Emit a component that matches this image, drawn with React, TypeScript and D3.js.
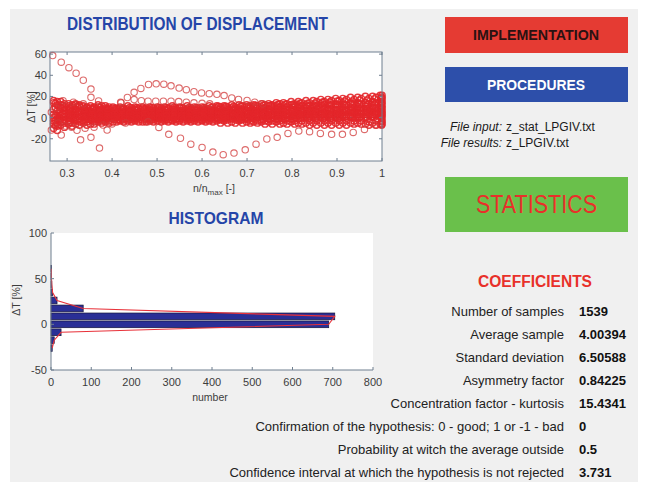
import React from "react";
import * as d3 from "d3";

// scatter: three interleaved n/nmax grids for the dense band of curves
const gridA = [0.27, 0.286, 0.303, 0.319, 0.336, 0.352, 0.369, 0.385, 0.402, 0.418, 0.435, 0.451, 0.468, 0.484, 0.501, 0.517, 0.534, 0.55, 0.567, 0.583, 0.6, 0.616, 0.633, 0.649, 0.666, 0.682, 0.699, 0.715, 0.732, 0.748, 0.765, 0.781, 0.798, 0.814, 0.831, 0.847, 0.864, 0.88, 0.897, 0.913, 0.93, 0.946, 0.963, 0.979, 0.996];
const gridB = [0.278, 0.294, 0.311, 0.327, 0.344, 0.36, 0.377, 0.393, 0.41, 0.426, 0.443, 0.459, 0.476, 0.492, 0.509, 0.525, 0.542, 0.558, 0.575, 0.591, 0.608, 0.624, 0.641, 0.657, 0.674, 0.69, 0.707, 0.723, 0.74, 0.756, 0.773, 0.789, 0.806, 0.822, 0.839, 0.855, 0.872, 0.888, 0.905, 0.921, 0.938, 0.954, 0.971, 0.987, 0.999];
const gridC = [0.274, 0.29, 0.307, 0.323, 0.34, 0.356, 0.373, 0.389, 0.406, 0.422, 0.439, 0.455, 0.472, 0.488, 0.505, 0.521, 0.538, 0.554, 0.571, 0.587, 0.604, 0.62, 0.637, 0.653, 0.67, 0.686, 0.703, 0.719, 0.736, 0.752, 0.769, 0.785, 0.802, 0.818, 0.835, 0.851, 0.868, 0.884, 0.901, 0.917, 0.934, 0.95, 0.967, 0.983, 0.998];

const bandA = [
  [14, 12, 11, 12, 10, 9, 10, 9, 9, 9, 8, 8, 9, 8, 8, 8, 8, 9, 8, 8, 8, 8, 9, 9, 9, 9, 10, 10, 10, 11, 11, 11, 12, 12, 12, 12, 13, 13, 13, 14, 14, 14, 14, 15, 15],
  [8, 9, 7, 8, 7, 6, 7, 7, 6, 6, 6, 7, 6, 6, 6, 7, 6, 6, 6, 7, 6, 6, 6, 6, 7, 7, 7, 7, 8, 8, 8, 8, 8, 9, 9, 9, 9, 9, 10, 10, 10, 10, 11, 11, 11],
  [3, 5, 4, 5, 4, 4, 4, 5, 4, 4, 4, 4, 4, 4, 5, 4, 4, 4, 4, 4, 5, 4, 4, 4, 4, 5, 5, 5, 5, 5, 5, 6, 6, 6, 6, 6, 6, 7, 7, 7, 7, 7, 7, 8, 8],
  [0, 2, 2, 3, 2, 2, 2, 2, 2, 2, 2, 2, 2, 2, 2, 2, 2, 2, 2, 2, 2, 2, 3, 2, 2, 3, 3, 3, 3, 3, 3, 3, 4, 4, 4, 4, 4, 4, 4, 5, 5, 5, 5, 5, 5],
  [-3, -1, 0, 0, 1, 0, 0, 0, 0, 0, 0, 0, 1, 0, 0, 0, 0, 1, 0, 0, 0, 0, 0, 0, 1, 0, 0, 1, 1, 1, 1, 1, 1, 2, 2, 2, 2, 2, 2, 2, 2, 3, 3, 3, 3],
  [-6, -4, -3, -2, -3, -2, -2, -2, -1, -2, -1, -1, -2, -1, -1, -1, -2, -1, -1, -1, -2, -1, -1, -1, -1, -1, -1, -1, -2, -1, -1, -1, -1, -1, 0, 0, 0, 0, 0, 0, 0, 0, 0, 1, 1],
  [-10, -7, -6, -6, -5, -6, -4, -4, -4, -3, -3, -3, -4, -3, -3, -3, -3, -3, -3, -3, -3, -3, -3, -3, -4, -3, -4, -4, -4, -4, -4, -5, -4, -5, -5, -5, -5, -5, -5, -5, -5, -5, -6, -5, -6],
  [16, 15, 13, 13, 11, 11, 12, 11, 10, 10, 11, 10, 10, 10, 10, 10, 11, 10, 11, 10, 10, 11, 11, 11, 12, 12, 12, 12, 13, 13, 14, 14, 15, 15, 16, 16, 17, 17, 18, 18, 19, 19, 20, 20, 21],
];

const bandB = [
  [12, 10, 10, 11, 9, 9, 8, 8, 8, 8, 7, 8, 7, 7, 7, 8, 7, 7, 8, 7, 7, 7, 8, 8, 8, 8, 9, 9, 9, 10, 10, 10, 11, 11, 11, 11, 12, 12, 12, 12, 13, 13, 13, 14, 14],
  [6, 7, 6, 6, 6, 5, 5, 5, 5, 5, 5, 5, 5, 5, 5, 5, 5, 5, 5, 5, 5, 5, 5, 5, 5, 6, 6, 6, 6, 6, 7, 7, 7, 7, 7, 8, 8, 8, 8, 8, 9, 9, 9, 9, 10],
  [2, 4, 3, 3, 3, 3, 3, 3, 3, 3, 3, 3, 3, 3, 3, 3, 3, 3, 3, 3, 3, 3, 3, 3, 4, 3, 4, 4, 4, 4, 4, 4, 5, 5, 5, 5, 5, 5, 5, 6, 6, 6, 6, 6, 6],
  [-1, 1, 1, 1, 1, 1, 1, 1, 1, 1, 1, 1, 1, 1, 1, 1, 1, 1, 1, 1, 1, 1, 1, 1, 2, 1, 2, 2, 2, 2, 2, 2, 2, 3, 3, 3, 3, 3, 3, 3, 4, 4, 4, 4, 4],
  [-5, -2, -1, -1, -1, -1, -1, -1, 0, -1, 0, 0, -1, 0, 0, 0, -1, 0, 0, 0, 0, 0, 0, 0, 0, 0, 0, 0, 0, 0, 0, 0, 0, 1, 1, 1, 1, 1, 1, 1, 1, 1, 2, 2, 2],
  [-8, -5, -5, -4, -4, -4, -3, -3, -2, -2, -2, -2, -2, -2, -2, -2, -2, -2, -2, -2, -2, -2, -2, -2, -2, -2, -3, -3, -3, -3, -3, -3, -3, -3, -3, -3, -3, -3, -3, -3, -3, -3, -4, -3, -4],
  [15, 13, 12, 12, 10, 10, 11, 10, 9, 9, 9, 9, 9, 9, 9, 9, 9, 9, 9, 9, 9, 10, 10, 10, 10, 11, 11, 11, 12, 12, 13, 13, 13, 14, 14, 15, 15, 16, 16, 17, 17, 18, 18, 19, 19],
  [-12, -9, -8, -7, -7, -6, -5, -5, -4, -4, -4, -4, -4, -4, -4, -4, -4, -4, -4, -4, -4, -4, -5, -5, -5, -5, -5, -5, -6, -6, -6, -6, -6, -6, -7, -7, -7, -7, -7, -7, -6, -6, -7, -7, -7],
];

const bandC = [
  [9.5, 8.5, 8.5, 9.5, 7.5, 7.5, 6.5, 7.5, 6.5, 7.5, 6.5, 6.5, 7.5, 6.5, 6.5, 6.5, 7.5, 6.5, 6.5, 6.5, 7.5, 6.5, 7.5, 6.5, 7.5, 7.5, 8.5, 8.5, 8.5, 8.5, 9.5, 9.5, 9.5, 10.5, 10.5, 10.5, 10.5, 11.5, 11.5, 11.5, 12.5, 12.5, 12.5, 12.5, 13.5],
  [1.5, 3.5, 5.5, 4.5, 5.5, 4.5, 3.5, 4.5, 3.5, 4.5, 3.5, 4.5, 3.5, 4.5, 3.5, 4.5, 3.5, 4.5, 3.5, 4.5, 3.5, 4.5, 4.5, 4.5, 4.5, 4.5, 4.5, 5.5, 5.5, 5.5, 5.5, 5.5, 6.5, 6.5, 6.5, 6.5, 7.5, 7.5, 7.5, 7.5, 8.5, 8.5, 8.5, 9.5, 9.5],
  [-2.5, 0.5, -0.5, 1.5, 0.5, 1.5, 0.5, 1.5, 0.5, 1.5, 0.5, 1.5, 0.5, 1.5, 0.5, 1.5, 0.5, 1.5, 0.5, 1.5, 0.5, 1.5, 1.5, 1.5, 1.5, 1.5, 1.5, 1.5, 2.5, 2.5, 2.5, 2.5, 2.5, 2.5, 3.5, 3.5, 3.5, 3.5, 3.5, 4.5, 4.5, 4.5, 4.5, 4.5, 5.5],
  [-7.5, -3.5, -4.5, -2.5, -1.5, -2.5, -1.5, -0.5, -1.5, -0.5, -1.5, -0.5, -0.5, -1.5, -0.5, -1.5, -0.5, -0.5, -1.5, -0.5, -0.5, -0.5, -1.5, -0.5, -0.5, -1.5, -1.5, -1.5, -1.5, -1.5, -1.5, -1.5, -1.5, -0.5, -0.5, -0.5, -0.5, -0.5, -0.5, 0.5, 0.5, 0.5, 0.5, 0.5, 0.5],
  [13.5, 11.5, 9.5, 10.5, 8.5, 8.5, 9.5, 8.5, 8.5, 8.5, 9.5, 9.5, 8.5, 9.5, 9.5, 9.5, 9.5, 9.5, 9.5, 9.5, 9.5, 9.5, 10.5, 10.5, 10.5, 10.5, 10.5, 11.5, 11.5, 11.5, 12.5, 12.5, 12.5, 13.5, 13.5, 13.5, 14.5, 14.5, 15.5, 15.5, 15.5, 16.5, 16.5, 17.5, 17.5],
];

// curves that leave the band, as [n/nmax, dT] pairs
const curveHigh: [number, number][] = [[0.268, 58.6], [0.287, 52.4], [0.304, 47.2], [0.32, 41.9], [0.336, 35.3], [0.353, 27]];
const curveHump: [number, number][] = [[0.42, 14], [0.434, 19], [0.449, 23.9], [0.464, 27.6], [0.481, 31.3], [0.498, 31.9], [0.515, 31.6], [0.531, 30], [0.549, 27.9], [0.565, 26.4], [0.582, 24.5], [0.599, 23.3], [0.616, 22.6], [0.633, 22], [0.649, 20.8], [0.666, 18.6], [0.681, 17.1], [0.7, 16.2], [0.717, 14.6], [0.735, 13]];
const curveHump2: [number, number][] = [[0.449, 17], [0.465, 16], [0.48, 15.5], [0.497, 15.5], [0.514, 15.5], [0.531, 15.5], [0.548, 15.2], [0.565, 14.5], [0.582, 14], [0.6, 13.5], [0.617, 13]];
const curveLow: [number, number][] = [[0.48, -4], [0.504, -9.3], [0.526, -15.8], [0.552, -19.5], [0.575, -25.1], [0.6, -28.2], [0.624, -32.6], [0.647, -35], [0.671, -33.5], [0.696, -30.4], [0.72, -25.1], [0.744, -20.2], [0.767, -18.6], [0.791, -14.9], [0.815, -12.7], [0.839, -13.3], [0.863, -14.9], [0.888, -15.8], [0.912, -15.8], [0.936, -14], [0.961, -11.2], [0.985, -7]];
const leftScatter: [number, number][] = [[0.265, -11.8], [0.287, -16.5], [0.33, -21], [0.353, -18.6], [0.372, -28.8], [0.389, -11.8], [0.291, 16], [0.314, 14.6], [0.37, 15.8], [0.419, 14.6], [0.265, 5], [0.275, 9], [0.28, -5], [0.296, -8], [0.31, -9], [0.322, -12], [0.34, -10], [0.36, -9], [0.38, -7], [0.353, 19.2], [0.336, 13], [0.4, -6], [0.43, -5]];
const endStack = [-6, -3, 0, 3, 6, 9, 12, 15, 18, 21];

const scatterXTicks = [0.3, 0.4, 0.5, 0.6, 0.7, 0.8, 0.9, 1];
const scatterYTicks = [-20, 0, 20, 40, 60];

// histogram of dT
const binCenters = [-26.1, -17.4, -8.7, 0, 8.7, 17.4, 26.1, 34.8, 43.5, 52.2, 60.9];
const binCounts = [3, 8, 25, 690, 705, 80, 15, 4, 2, 1, 1];
const binWidth = 8.7;
const histXTicks = [0, 100, 200, 300, 400, 500, 600, 700, 800];
const histYTicks = [-50, 0, 50, 100];

const coefLabels = [
  "Number of samples",
  "Average sample",
  "Standard deviation",
  "Asymmetry factor",
  "Concentration factor - kurtosis",
  "Confirmation of the hypothesis: 0 - good; 1 or -1 - bad",
  "Probability at witch the average outside",
  "Confidence interval at which the hypothesis is not rejected",
];
const coefValues = ["1539", "4.00394", "6.50588", "0.84225", "15.4341", "0", "0.5", "3.731"];

const FONT = "'Liberation Sans', Arial, sans-serif";
const AXIS = "#6f7f8f";
const TICKTXT = "#3c3c3c";
const RED = "#e3262a";

export default function App() {
  const sx = d3.scaleLinear().domain([0.262, 1]).range([50, 382]);
  const sy = d3.scaleLinear().domain([-41, 62]).range([161, 52]);
  const hx = d3.scaleLinear().domain([0, 800]).range([51, 373]);
  const hy = d3.scaleLinear().domain([-50, 100]).range([370, 233]);
  const rowY = d3.scaleLinear().domain([0, 7]).range([316, 477]);

  const band: [number, number][] = [];
  const addBand = (grid: number[], series: number[][]) =>
    series.forEach((s) => s.forEach((v, i) => i < grid.length && band.push([grid[i], v])));
  addBand(gridA, bandA);
  addBand(gridB, bandB);
  addBand(gridC, bandC);
  endStack.forEach((v) => band.push([1, v]));

  const loose: [number, number][] = [];
  [curveHigh, curveHump, curveHump2, curveLow, leftScatter].forEach((c) => c.forEach((p) => loose.push(p)));

  const poly = d3.line<number>()
    .x((c) => hx(c))
    .y((_, i) => hy(binCenters[i]));

  return (
    <svg width={646} height={482} style={{ position: "absolute", left: 0, top: 0 }} fontFamily={FONT}>
      <rect x={0} y={0} width={646} height={482} fill="#ffffff" />
      <rect x={10} y={9} width={628} height={473} fill="#f0f0f0" />

      {/* scatter */}
      <text x={197.5} y={30} textAnchor="middle" fontSize={18} fontWeight="bold" fill="#2545a8"
        textLength={261} lengthAdjust="spacingAndGlyphs">DISTRIBUTION OF DISPLACEMENT</text>
      <rect x={50} y={52} width={332} height={109} fill="#ffffff" />
      <line x1={50} x2={382} y1={sy(0)} y2={sy(0)} stroke="#333" strokeWidth={0.8} />
      <g fill="none" stroke={RED} strokeWidth={1.4} strokeOpacity={0.9}>
        {band.map((p, i) => (
          <circle key={i} cx={sx(p[0])} cy={sy(p[1])} r={3.2} />
        ))}
      </g>
      <g fill="none" stroke="#d23a3a" strokeWidth={1.1} strokeOpacity={0.75}>
        {loose.map((p, i) => (
          <circle key={i} cx={sx(p[0])} cy={sy(p[1])} r={3.2} />
        ))}
      </g>
      <rect x={50} y={52} width={332} height={109} fill="none" stroke={AXIS} strokeWidth={1} />
      <g stroke={AXIS}>
        {scatterXTicks.map((t) => (
          <g key={t}>
            <line x1={sx(t)} x2={sx(t)} y1={161} y2={158} />
            <line x1={sx(t)} x2={sx(t)} y1={52} y2={55} />
          </g>
        ))}
        {scatterYTicks.map((t) => (
          <g key={t}>
            <line x1={50} x2={53} y1={sy(t)} y2={sy(t)} />
            <line x1={382} x2={379} y1={sy(t)} y2={sy(t)} />
          </g>
        ))}
      </g>
      <g fontSize={11} fill={TICKTXT}>
        {scatterXTicks.map((t) => (
          <text key={t} x={sx(t)} y={177} textAnchor="middle">{String(t)}</text>
        ))}
        {scatterYTicks.map((t) => (
          <text key={t} x={47} y={sy(t) + 4} textAnchor="end">{String(t)}</text>
        ))}
      </g>
      <text x={214} y={192} textAnchor="middle" fontSize={10.5} fill={TICKTXT}>
        n/n<tspan fontSize={8} dy={3}>max</tspan><tspan dy={-3}> [-]</tspan>
      </text>
      <text transform="translate(35,107) rotate(-90)" textAnchor="middle" fontSize={10.5} fill={TICKTXT}>ΔT [%]</text>

      {/* histogram */}
      <text x={216} y={224} textAnchor="middle" fontSize={17} fontWeight="bold" fill="#2545a8"
        textLength={95} lengthAdjust="spacingAndGlyphs">HISTOGRAM</text>
      <rect x={51} y={233} width={322} height={137} fill="#ffffff" />
      <g fill="#2a2f96" stroke="#15153a" strokeWidth={0.7}>
        {binCounts.map((c, i) => {
          const y0 = hy(binCenters[i] + binWidth / 2) + 0.6;
          const y1 = hy(binCenters[i] - binWidth / 2) - 0.6;
          return <rect key={i} x={hx(0)} y={y0} width={hx(c) - hx(0)} height={y1 - y0} />;
        })}
      </g>
      <path d={poly(binCounts) || ""} fill="none" stroke="#e8323a" strokeWidth={1.1} />
      <g stroke={AXIS}>
        <line x1={51} x2={51} y1={233} y2={370} />
        <line x1={51} x2={373} y1={370} y2={370} />
        {histXTicks.map((t) => (
          <line key={t} x1={hx(t)} x2={hx(t)} y1={370} y2={367} />
        ))}
        {histYTicks.map((t) => (
          <line key={t} x1={51} x2={54} y1={hy(t)} y2={hy(t)} />
        ))}
      </g>
      <g fontSize={11} fill={TICKTXT}>
        {histXTicks.map((t) => (
          <text key={t} x={hx(t)} y={386} textAnchor="middle">{String(t)}</text>
        ))}
        {histYTicks.map((t) => (
          <text key={t} x={47} y={hy(t) + 4} textAnchor="end">{String(t)}</text>
        ))}
      </g>
      <text x={210} y={401} textAnchor="middle" fontSize={10.5} fill={TICKTXT}>number</text>
      <text transform="translate(20,300) rotate(-90)" textAnchor="middle" fontSize={10.5} fill={TICKTXT}>ΔT [%]</text>

      {/* buttons */}
      <rect x={445} y={17} width={183} height={36} fill="#e53b33" />
      <text x={536} y={40} textAnchor="middle" fontSize={14} fontWeight="bold" fill="#2a1212"
        textLength={126} lengthAdjust="spacingAndGlyphs">IMPLEMENTATION</text>
      <rect x={445} y={67} width={183} height={35} fill="#2d4faa" />
      <text x={536} y={90} textAnchor="middle" fontSize={14} fontWeight="bold" fill="#ffffff"
        textLength={98} lengthAdjust="spacingAndGlyphs">PROCEDURES</text>

      <g fontSize={12} fill="#1a1a1a">
        <text x={502} y={131} textAnchor="end" fontStyle="italic">File input:</text>
        <text x={506} y={131}>z_stat_LPGIV.txt</text>
        <text x={502} y={147} textAnchor="end" fontStyle="italic">File results:</text>
        <text x={506} y={147}>z_LPGIV.txt</text>
      </g>

      <rect x={445} y={177} width={183} height={55} fill="#6ac04b" />
      <text x={536.5} y={213} textAnchor="middle" fontSize={25} fill="#e8302a"
        textLength={121} lengthAdjust="spacingAndGlyphs">STATISTICS</text>

      {/* coefficients */}
      <text x={535} y={287} textAnchor="middle" fontSize={16} fontWeight="bold" fill="#e8302a"
        textLength={114} lengthAdjust="spacingAndGlyphs">COEFFICIENTS</text>
      <g fontSize={13}>
        {coefLabels.map((l, i) => (
          <text key={l} x={564} y={rowY(i)} textAnchor="end" fill="#222">{l}</text>
        ))}
        {coefValues.map((v, i) => (
          <text key={i} x={579} y={rowY(i)} fontWeight="bold" fill="#111">{v}</text>
        ))}
      </g>
    </svg>
  );
}
